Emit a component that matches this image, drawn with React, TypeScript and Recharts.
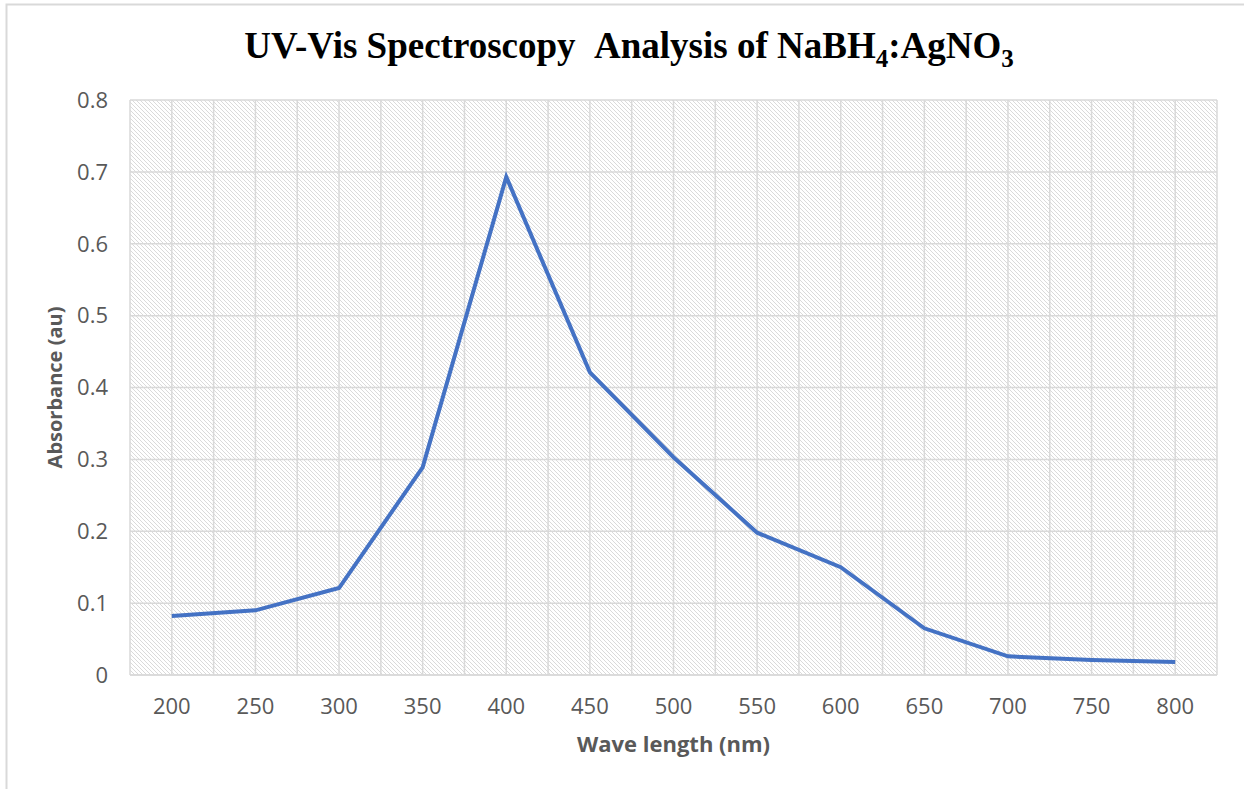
import { LineChart, Line, XAxis, YAxis, CartesianGrid, Label } from 'recharts';

const wavelengths = [200, 250, 300, 350, 400, 450, 500, 550, 600, 650, 700, 750, 800];
const absorbance = [0.082, 0.09, 0.121, 0.289, 0.693, 0.421, 0.303, 0.198, 0.15, 0.065, 0.026, 0.021, 0.018];
const xTicks = [200, 250, 300, 350, 400, 450, 500, 550, 600, 650, 700, 750, 800];
const yTicks = [0, 0.1, 0.2, 0.3, 0.4, 0.5, 0.6, 0.7, 0.8];

const data = wavelengths.map((w, i) => ({ wavelength: w, absorbance: absorbance[i] }));

const X_MIN = 175;
const X_MAX = 825;
const labelFont = '"Open Sans", sans-serif';

// gridlines at every half step, like the excel chart (centres + boundaries)
const verticalLines = ({ offset }: any) => {
  const out: number[] = [];
  for (let v = X_MIN; v <= X_MAX; v += 25) {
    out.push(offset.left + ((v - X_MIN) / (X_MAX - X_MIN)) * offset.width);
  }
  return out;
};

export default function App() {
  return (
    <div style={{ position: 'absolute', left: 0, top: 0, width: 1244, height: 789, background: '#fff' }}>
      <svg width={1244} height={789} style={{ position: 'absolute', left: 0, top: 0 }}>
        <rect x={6.5} y={4.5} width={1260} height={800} fill="none" stroke="#d9d9d9" strokeWidth={2} />
        <text
          x={629}
          y={58}
          textAnchor="middle"
          fontFamily='"Liberation Serif", "Times New Roman", serif'
          fontWeight="bold"
          fontSize={37}
          fill="#000"
        >
          UV-Vis Spectroscopy{'\u00a0\u00a0'}Analysis of NaBH
          <tspan fontSize={25} dy={9}>4</tspan>
          <tspan dy={-9}>:AgNO</tspan>
          <tspan fontSize={25} dy={9}>3</tspan>
        </text>
      </svg>
      <div style={{ position: 'absolute', left: 0, top: 0 }}>
        <LineChart
          width={1244}
          height={789}
          data={data}
          margin={{ top: 100, right: 27, bottom: 74, left: 70 }}
        >
          <defs>
            <pattern id="hatch" width={4} height={4} patternUnits="userSpaceOnUse">
              <rect width={4} height={4} fill="#fff" />
              <path d="M-1,-1 L5,5 M-1,3 L1,5 M3,-1 L5,1" stroke="#dadada" strokeWidth={1} />
            </pattern>
          </defs>
          <CartesianGrid
            fill="url(#hatch)"
            stroke="#d9d9d9"
            strokeWidth={1.5}
            verticalCoordinatesGenerator={verticalLines}
          />
          <XAxis
            dataKey="wavelength"
            type="number"
            domain={[X_MIN, X_MAX]}
            ticks={xTicks}
            interval={0}
            height={40}
            axisLine={{ stroke: '#d9d9d9', strokeWidth: 1.5 }}
            tickLine={false}
            tickSize={0}
            tickMargin={23}
            tick={{ fill: '#595959', fontSize: 22, fontFamily: labelFont }}
          >
            <Label
              value="Wave length (nm)"
              position="bottom"
              offset={21}
              style={{ fill: '#595959', fontSize: 22, fontWeight: 'bold', fontFamily: labelFont }}
            />
          </XAxis>
          <YAxis
            type="number"
            domain={[0, 0.8]}
            ticks={yTicks}
            interval={0}
            width={60}
            axisLine={false}
            tickLine={false}
            tickSize={0}
            tickMargin={22}
            tick={{ fill: '#595959', fontSize: 22, fontFamily: labelFont }}
          >
            <Label
              value="Absorbance (au)"
              angle={-90}
              position="insideLeft"
              offset={-15}
              style={{ textAnchor: 'middle', fill: '#595959', fontSize: 20, fontWeight: 'bold', fontFamily: labelFont }}
            />
          </YAxis>
          <Line
            type="linear"
            dataKey="absorbance"
            stroke="#4472C4"
            strokeWidth={4}
            dot={false}
            activeDot={false}
            isAnimationActive={false}
          />
        </LineChart>
      </div>
    </div>
  );
}
